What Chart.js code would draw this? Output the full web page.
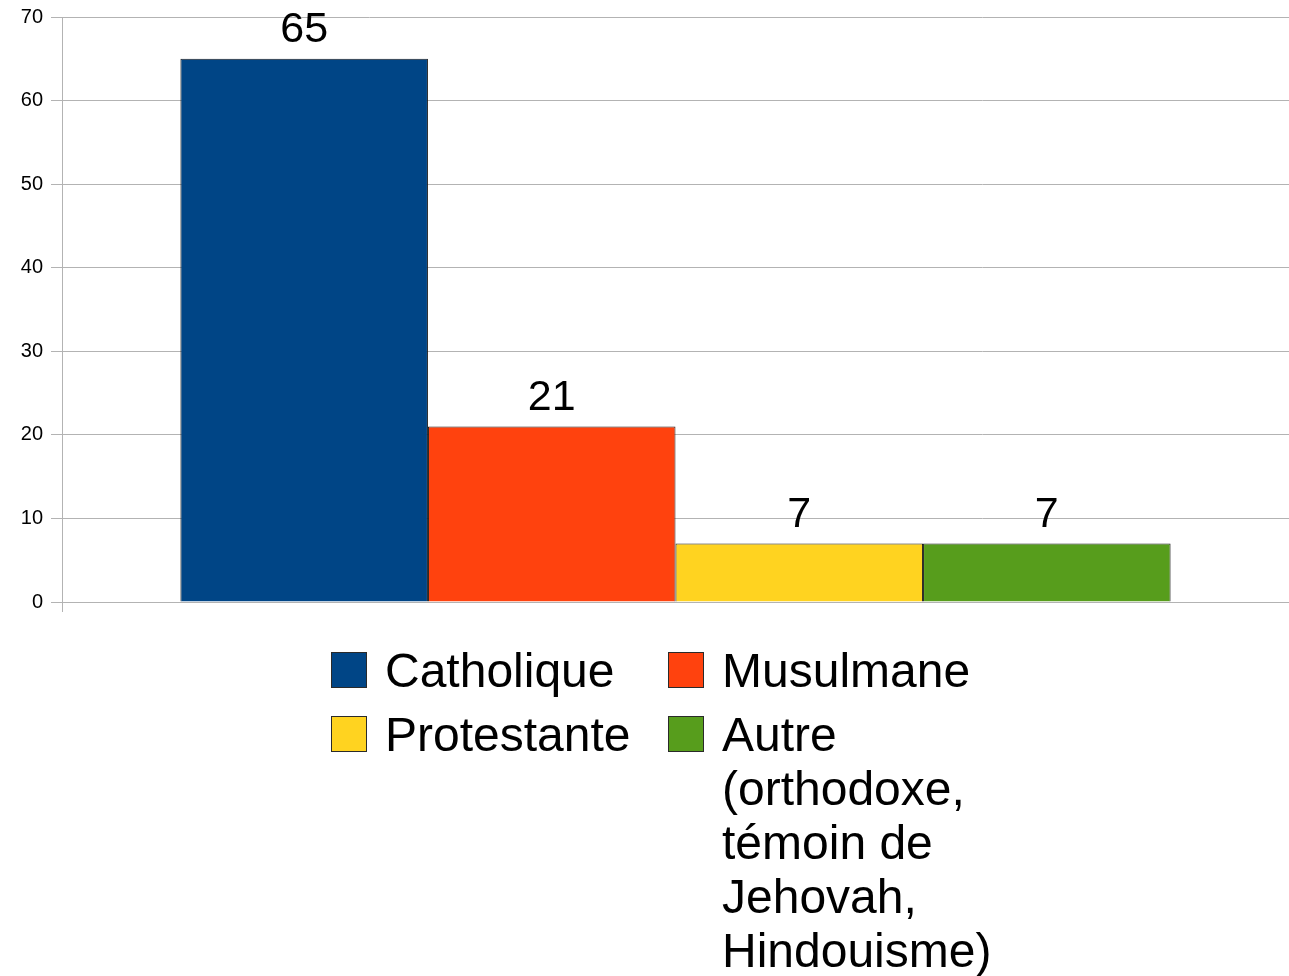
<!DOCTYPE html>
<html>
<head>
<meta charset="utf-8">
<script src="https://cdn.jsdelivr.net/npm/chart.js@4"></script>
<style>
  html, body { margin: 0; padding: 0; background: #fff; }
  #wrap { width: 1289px; height: 976px; position: relative; }
</style>
</head>
<body>
<div id="wrap"><canvas id="religions"></canvas></div>
<script>
// data
const seriesNames = ['Catholique', 'Musulmane', 'Protestante', 'Autre (orthodoxe, témoin de Jehovah, Hindouisme)'];
const seriesValues = [65, 21, 7, 7];
const seriesColors = ['#004586', '#ff420e', '#ffd320', '#579d1c'];
const yTicks = [0, 10, 20, 30, 40, 50, 60, 70];

const FONT = '"Liberation Sans", Arial, sans-serif';

const datasets = seriesNames.map((name, i) => ({
  label: name,
  data: [seriesValues[i]],
  backgroundColor: seriesColors[i],
  borderColor: '#1c1c1c',
  borderWidth: 1,
  barPercentage: 1,
  categoryPercentage: 0.807
}));

// values above the bars
const valueLabels = {
  id: 'valueLabels',
  afterDatasetsDraw(chart) {
    const ctx = chart.ctx;
    ctx.save();
    ctx.font = '43px ' + FONT;
    ctx.fillStyle = '#000';
    ctx.textAlign = 'center';
    ctx.textBaseline = 'alphabetic';
    chart.data.datasets.forEach((ds, i) => {
      const bar = chart.getDatasetMeta(i).data[0];
      ctx.fillText(String(ds.data[0]), bar.x, bar.y - 17);
    });
    ctx.restore();
  }
};

// two column legend under the chart, long labels wrapped
const bottomLegend = {
  id: 'bottomLegend',
  afterDraw(chart) {
    const ctx = chart.ctx;
    const cols = [331, 668];
    const rowTop = [652, 716];
    const lineH = 54;
    const maxW = 290;
    ctx.save();
    ctx.font = '48px ' + FONT;
    ctx.textBaseline = 'alphabetic';
    ctx.textAlign = 'left';
    chart.data.datasets.forEach((ds, i) => {
      const x = cols[i % 2];
      const y = rowTop[Math.floor(i / 2)];
      ctx.fillStyle = ds.backgroundColor;
      ctx.fillRect(x, y, 36, 36);
      ctx.strokeStyle = '#2a2a2a';
      ctx.lineWidth = 1;
      ctx.strokeRect(x + 0.5, y + 0.5, 35, 35);
      // wrap words
      const words = ds.label.split(' ');
      const lines = [];
      let cur = '';
      words.forEach(w => {
        const t = cur ? cur + ' ' + w : w;
        if (cur && ctx.measureText(t).width > maxW) { lines.push(cur); cur = w; }
        else cur = t;
      });
      if (cur) lines.push(cur);
      ctx.fillStyle = '#000';
      lines.forEach((ln, k) => ctx.fillText(ln, x + 54, y + 35 + k * lineH));
    });
    ctx.restore();
  }
};

new Chart(document.getElementById('religions'), {
  type: 'bar',
  data: { labels: [''], datasets: datasets },
  options: {
    responsive: true,
    maintainAspectRatio: false,
    animation: false,
    layout: { padding: { top: 17, right: 0, left: 0, bottom: 0 } },
    plugins: { legend: { display: false }, tooltip: { enabled: false } },
    scales: {
      x: {
        grid: { display: true, drawOnChartArea: false, drawTicks: true, tickLength: 10, color: '#b3b3b3', offset: true },
        border: { display: true, color: '#b3b3b3' },
        ticks: { display: false },
        afterFit(scale) { scale.height = 976 - 602; }
      },
      y: {
        min: 0,
        max: 70,
        afterBuildTicks(scale) { scale.ticks = yTicks.map(v => ({ value: v })); },
        grid: { color: '#b3b3b3', tickLength: 11 },
        border: { display: true, color: '#b3b3b3' },
        ticks: { color: '#000', font: { family: FONT, size: 20, lineHeight: 1 }, padding: 8 },
        afterFit(scale) { scale.width = 62; scale.paddingTop = 0; }
      }
    }
  },
  plugins: [valueLabels, bottomLegend]
});
</script>
</body>
</html>
